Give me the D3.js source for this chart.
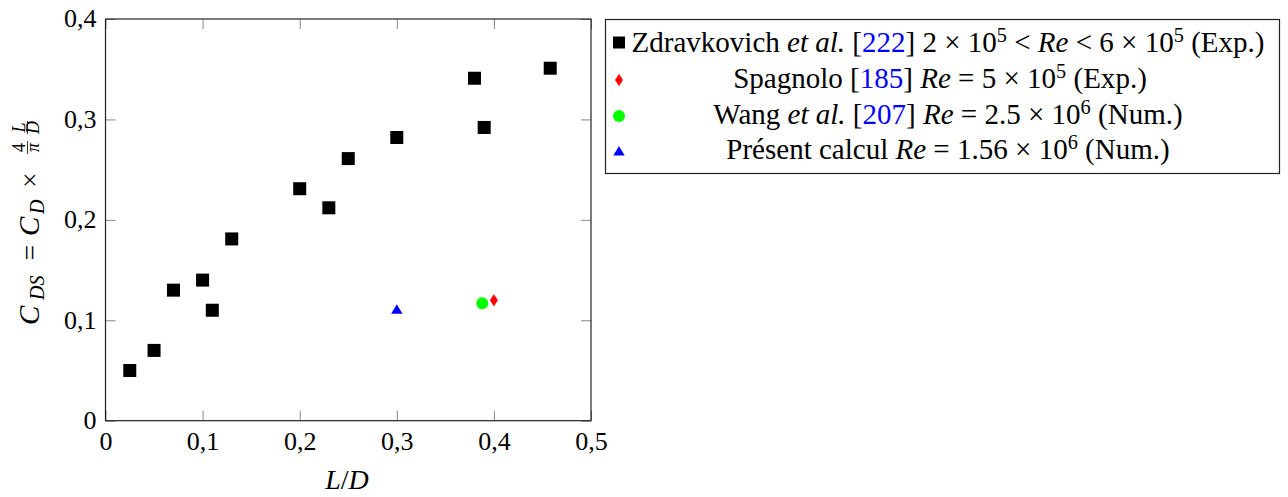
<!DOCTYPE html>
<html><head><meta charset="utf-8">
<script src="https://cdn.jsdelivr.net/npm/d3@7"></script>
<style>body{margin:0;background:#fff}svg{display:block}</style>
</head><body>
<svg id="c" width="1288" height="497" style="font-family:'Liberation Serif',serif"></svg>
<script>
// Data
const zdravX = [0.025, 0.05, 0.07, 0.10, 0.11, 0.13, 0.20, 0.23, 0.25, 0.30, 0.38, 0.39, 0.458];
const zdravY = [0.05, 0.07, 0.13, 0.14, 0.11, 0.181, 0.231, 0.212, 0.261, 0.282, 0.341, 0.292, 0.351];
const spagX = [0.40], spagY = [0.12];
const wangX = [0.388], wangY = [0.117];
const presX = [0.30], presY = [0.11];
const xTicks = [0, 0.1, 0.2, 0.3, 0.4, 0.5];
const xTickLabels = ["0", "0,1", "0,2", "0,3", "0,4", "0,5"];
const yTicks = [0, 0.1, 0.2, 0.3, 0.4];
const yTickLabels = ["0", "0,1", "0,2", "0,3", "0,4"];

const FONT = "Liberation Serif";
const svg = d3.select("#c");
const x = d3.scaleLinear().domain([0, 0.5]).range([105.5, 591]);
const y = d3.scaleLinear().domain([0, 0.4]).range([420.7, 19]);
const FS = 26;
const tickColor = "#888";

function styleAxis(g, labels) {
  g.attr("font-family", FONT);
  g.select(".domain").remove();
  g.selectAll(".tick line").attr("stroke", tickColor).attr("stroke-width", 1);
  g.selectAll(".tick text").style("font-family", FONT).attr("font-size", FS).attr("fill", "#000");
  if (!labels) g.selectAll(".tick text").remove();
}
const gB = svg.append("g").attr("transform", `translate(0,${y(0)})`)
  .call(d3.axisBottom(x).tickValues(xTicks).tickSize(-10).tickPadding(11).tickFormat((d, i) => xTickLabels[i]));
styleAxis(gB, true);
gB.selectAll(".tick text").attr("dy", "0.71em");
const gT = svg.append("g").attr("transform", `translate(0,${y(0.4)})`)
  .call(d3.axisTop(x).tickValues(xTicks).tickSize(-10).tickFormat(""));
styleAxis(gT, false);
const gL = svg.append("g").attr("transform", `translate(${x(0)},0)`)
  .call(d3.axisLeft(y).tickValues(yTicks).tickSize(-10).tickPadding(9).tickFormat((d, i) => yTickLabels[i]));
styleAxis(gL, true);
gL.selectAll(".tick text").attr("dy", "0.3em");
const gR = svg.append("g").attr("transform", `translate(${x(0.5)},0)`)
  .call(d3.axisRight(y).tickValues(yTicks).tickSize(-10).tickFormat(""));
styleAxis(gR, false);

// Frame
svg.append("rect").attr("x", x(0)).attr("y", y(0.4)).attr("width", x(0.5) - x(0)).attr("height", y(0) - y(0.4))
  .attr("fill", "none").attr("stroke", "#222").attr("stroke-width", 1.2);

// Markers
const sq = 13;
svg.append("g").selectAll("rect").data(zdravX.map((d, i) => [d, zdravY[i]])).join("rect")
  .attr("x", d => x(d[0]) - sq / 2).attr("y", d => y(d[1]) - sq / 2).attr("width", sq).attr("height", sq).attr("fill", "#000");
function diamond(cx, cy, w, h) { return `M${cx},${cy - h}L${cx + w},${cy}L${cx},${cy + h}L${cx - w},${cy}Z`; }
function tri(cx, cy, s) { return `M${cx},${cy - s}L${cx + s * 0.95},${cy + s * 0.6}L${cx - s * 0.95},${cy + s * 0.6}Z`; }
svg.append("g").selectAll("path").data(spagX.map((d, i) => [d, spagY[i]])).join("path")
  .attr("d", d => diamond(x(d[0]), y(d[1]), 4, 6)).attr("fill", "#f00");
svg.append("g").selectAll("circle").data(wangX.map((d, i) => [d, wangY[i]])).join("circle")
  .attr("cx", d => x(d[0])).attr("cy", d => y(d[1])).attr("r", 6).attr("fill", "#0f0");
svg.append("g").selectAll("path").data(presX.map((d, i) => [d, presY[i]])).join("path")
  .attr("d", d => tri(x(d[0]), y(d[1]), 6)).attr("fill", "#00f");

// X axis label
const xl = svg.append("text").attr("x", 347).attr("y", 489).attr("text-anchor", "middle").attr("font-size", 28).style("font-family", FONT);
xl.append("tspan").attr("font-style", "italic").text("L");
xl.append("tspan").text("/");
xl.append("tspan").attr("font-style", "italic").text("D");

// Y axis label (rotated), pieces laid out along the reading direction
const yg = svg.append("g").attr("transform", "translate(39,325) rotate(-90)");
function piece(txt, px, py, fs, italic, anchor) {
  yg.append("text").attr("x", px).attr("y", py).attr("font-size", fs).attr("text-anchor", anchor || "start")
    .style("font-family", FONT).attr("font-style", italic ? "italic" : "normal").text(txt);
}
piece("C", 0, 0, 29, true);
piece("DS", 25, 5, 20, true);
piece("=", 72.5, 0, 27, false, "middle");
piece("C", 89, 0, 29, true);
piece("D", 111, 5, 20, true);
piece("×", 145, 0, 27, false, "middle");
function frac(num, den, fxp, numItalic) {
  const w = 13;
  piece(num, fxp + w / 2, -14, 18, numItalic, "middle");
  yg.append("line").attr("x1", fxp).attr("x2", fxp + w).attr("y1", -11.5).attr("y2", -11.5).attr("stroke", "#000").attr("stroke-width", 0.8);
  piece(den, fxp + w / 2, 0, 18, true, "middle");
}
frac("4", "π", 171, false);
frac("L", "D", 191, true);

// Legend
svg.append("rect").attr("x", 605.5).attr("y", 19.5).attr("width", 674).attr("height", 154)
  .attr("fill", "#fff").attr("stroke", "#222").attr("stroke-width", 1.2);
const legendRows = [
  [["Zdravkovich ", ""], ["et al.", "i"], [" [", ""], ["222", "b"], ["] 2 × 10", ""], ["5", "s"], [" < ", ""], ["Re", "i"], [" < 6 × 10", ""], ["5", "s"], [" (Exp.)", ""]],
  [["Spagnolo [", ""], ["185", "b"], ["] ", ""], ["Re", "i"], [" = 5 × 10", ""], ["5", "s"], [" (Exp.)", ""]],
  [["Wang ", ""], ["et al.", "i"], [" [", ""], ["207", "b"], ["] ", ""], ["Re", "i"], [" = 2.5 × 10", ""], ["6", "s"], [" (Num.)", ""]],
  [["Présent calcul ", ""], ["Re", "i"], [" = 1.56 × 10", ""], ["6", "s"], [" (Num.)", ""]]
];
const rowY = [52, 88, 123.5, 159];
const rowCX = [948, 940, 948, 948];
const texts = [];
legendRows.forEach((row, ri) => {
  const t = svg.append("text").attr("x", rowCX[ri]).attr("y", rowY[ri]).attr("text-anchor", "middle").attr("font-size", 26).style("font-family", FONT);
  let prevSup = false;
  row.forEach(([s, k]) => {
    const ts = t.append("tspan").text(s);
    if (k === "i") ts.attr("font-style", "italic");
    if (k === "b") ts.attr("fill", "#00f");
    if (k === "s") { ts.attr("font-size", 18).attr("dy", -10); prevSup = true; }
    else if (prevSup) { ts.attr("dy", 10); prevSup = false; }
  });
  texts.push(t);
});
// fit legend font so row 1 spans the reference width
const w0 = texts[0].node().getComputedTextLength();
const lfs = 26 * 633 / w0;
texts.forEach(t => {
  t.attr("font-size", lfs);
  t.selectAll("tspan").filter(function () { return d3.select(this).attr("font-size"); }).attr("font-size", lfs * 0.7);
});
// legend markers
const lx = 619;
svg.append("rect").attr("x", lx - 6).attr("y", 42.5 - 6).attr("width", 12).attr("height", 12).attr("fill", "#000");
svg.append("path").attr("d", diamond(lx, 80, 4, 6)).attr("fill", "#f00");
svg.append("circle").attr("cx", lx).attr("cy", 116).attr("r", 6).attr("fill", "#0f0");
svg.append("path").attr("d", tri(lx, 152, 6)).attr("fill", "#00f");
</script>
</body></html>
